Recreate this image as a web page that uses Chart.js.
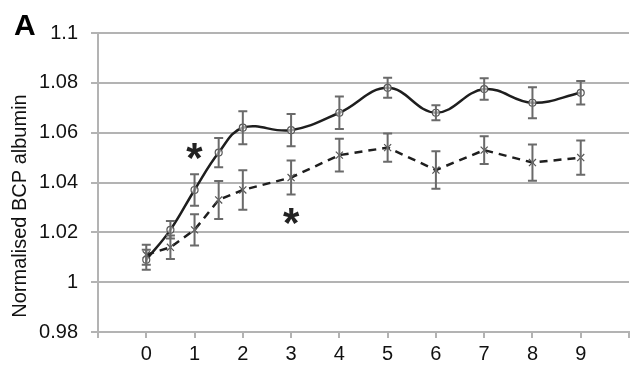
<!DOCTYPE html>
<html>
<head>
<meta charset="utf-8">
<script src="https://cdn.jsdelivr.net/npm/chart.js@4/dist/chart.umd.min.js"></script>
<style>
html,body{margin:0;padding:0;background:#fff;}
#wrap{width:640px;height:371px;position:relative;}
</style>
</head>
<body>
<div id="wrap"><canvas id="c" width="640" height="371"></canvas></div>
<script>
// ---- data ----
const timePoints   = [0, 0.5, 1, 1.5, 2, 3, 4, 5, 6, 7, 8, 9];
const solidMeans   = [1.009, 1.021, 1.037, 1.052, 1.062, 1.061, 1.068, 1.078, 1.068, 1.0775, 1.072, 1.076];
const solidErr     = [0.004, 0.0035, 0.0063, 0.0059, 0.0066, 0.0065, 0.0065, 0.004, 0.003, 0.0043, 0.0062, 0.0047];
const dashedMeans  = [1.011, 1.014, 1.021, 1.033, 1.037, 1.042, 1.051, 1.054, 1.045, 1.053, 1.048, 1.050];
const dashedErr    = [0.004, 0.0047, 0.0063, 0.0076, 0.0079, 0.0068, 0.0066, 0.0057, 0.0075, 0.0056, 0.0073, 0.0069];
const xTickLabels  = ['0','1','2','3','4','5','6','7','8','9'];
const yTickValues  = [0.98, 1, 1.02, 1.04, 1.06, 1.08, 1.1];
const asteriskX    = [1, 3];
const asteriskY    = [1.0528, 1.0264];
const panelLabel   = 'A';
const yTitle       = 'Normalised BCP albumin';

const FONT = "'Liberation Sans', Arial, sans-serif";
const GRID = '#b3b3b3';

const toPts = (xs, ys) => xs.map((x, i) => ({x: x, y: ys[i]}));

const errorBarPlugin = {
  id: 'errBars',
  afterDatasetsDraw(chart) {
    const ctx = chart.ctx, xs = chart.scales.x, ys = chart.scales.y;
    const sets = [[solidMeans, solidErr], [dashedMeans, dashedErr]];
    ctx.save();
    ctx.strokeStyle = '#6a6a6a';
    ctx.lineWidth = 2;
    sets.forEach(([m, e]) => {
      timePoints.forEach((t, i) => {
        const px = xs.getPixelForValue(t);
        const y1 = ys.getPixelForValue(m[i] + e[i]);
        const y2 = ys.getPixelForValue(m[i] - e[i]);
        ctx.beginPath();
        ctx.moveTo(px, y1); ctx.lineTo(px, y2);
        ctx.moveTo(px - 4.5, y1); ctx.lineTo(px + 4.5, y1);
        ctx.moveTo(px - 4.5, y2); ctx.lineTo(px + 4.5, y2);
        ctx.stroke();
      });
    });
    // asterisks
    ctx.fillStyle = '#222';
    ctx.font = "bold 42px " + FONT;
    ctx.textAlign = 'center';
    ctx.textBaseline = 'alphabetic';
    asteriskX.forEach((ax, i) => {
      const cx = xs.getPixelForValue(ax);
      const cy = ys.getPixelForValue(asteriskY[i]);
      const m = ctx.measureText('*');
      const base = cy + (m.actualBoundingBoxAscent - m.actualBoundingBoxDescent) / 2;
      ctx.fillText('*', cx, base);
    });
    // panel label
    ctx.fillStyle = '#000';
    ctx.font = "bold 30px " + FONT;
    ctx.textAlign = 'left';
    ctx.textBaseline = 'alphabetic';
    ctx.fillText(panelLabel, 14, 35);
    // y axis title
    ctx.save();
    ctx.translate(20.5, 206);
    ctx.rotate(-Math.PI / 2);
    ctx.font = "20px " + FONT;
    ctx.fillStyle = '#111';
    ctx.textAlign = 'center';
    ctx.textBaseline = 'middle';
    ctx.fillText(yTitle, 0, 0);
    ctx.restore();
    ctx.restore();
  }
};

new Chart(document.getElementById('c'), {
  type: 'line',
  data: {
    datasets: [
      {
        data: toPts(timePoints, solidMeans),
        borderColor: '#1e1e1e',
        borderWidth: 2.5,
        tension: 0.4,
        pointStyle: 'circle',
        pointRadius: 3.5,
        pointBorderColor: '#555',
        pointBorderWidth: 1.2,
        pointBackgroundColor: 'rgba(255,255,255,0.6)'
      },
      {
        data: toPts(timePoints, dashedMeans),
        borderColor: '#1e1e1e',
        borderWidth: 2.5,
        borderDash: [8, 6],
        tension: 0,
        pointStyle: 'crossRot',
        pointRadius: 5,
        pointBorderColor: '#555',
        pointBorderWidth: 1.2
      }
    ]
  },
  options: {
    responsive: false,
    animation: false,
    events: [],
    layout: {padding: {top: 33, right: 11, left: 0, bottom: 0}},
    plugins: {legend: {display: false}, tooltip: {enabled: false}},
    scales: {
      x: {
        type: 'linear',
        min: -1, max: 10,
        afterFit(s) { s.height = 39; },
        afterBuildTicks(s) { s.ticks = [-1,0,1,2,3,4,5,6,7,8,9,10].map(v => ({value: v})); },
        ticks: {
          autoSkip: false,
          maxRotation: 0,
          padding: 4,
          color: '#111',
          font: {family: FONT, size: 20},
          callback: (v) => (v >= 0 && v <= 9) ? xTickLabels[v] : ''
        },
        grid: {drawOnChartArea: false, drawTicks: true, tickLength: 6, color: GRID, lineWidth: 2},
        border: {display: true, color: GRID, width: 2}
      },
      y: {
        min: 0.98, max: 1.1,
        afterFit(s) { s.width = 98; },
        afterBuildTicks(s) { s.ticks = yTickValues.map(v => ({value: v})); },
        ticks: {
          padding: 13,
          color: '#111',
          font: {family: FONT, size: 20},
          callback: (v) => String(parseFloat(Number(v).toFixed(2)))
        },
        grid: {drawOnChartArea: true, drawTicks: true, tickLength: 7, color: GRID, lineWidth: 2},
        border: {display: true, color: GRID, width: 2}
      }
    }
  },
  plugins: [errorBarPlugin]
});
</script>
</body>
</html>
